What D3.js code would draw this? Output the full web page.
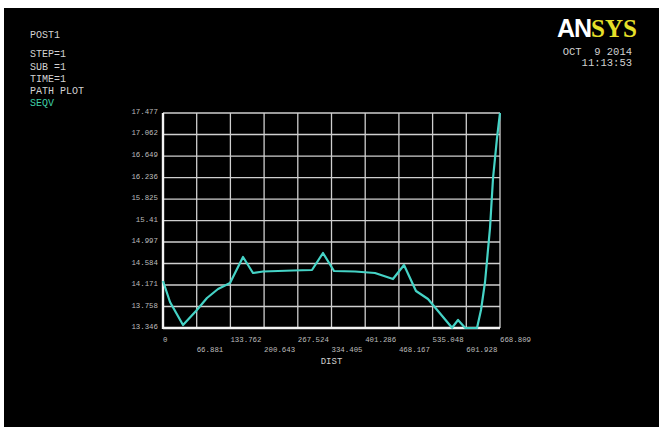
<!DOCTYPE html>
<html>
<head>
<meta charset="utf-8">
<script src="https://cdn.jsdelivr.net/npm/d3@7/dist/d3.min.js"></script>
<style>
  html, body { margin: 0; padding: 0; background: #ffffff; }
  svg { display: block; }
</style>
</head>
<body>
<svg id="chart" width="659" height="427"></svg>
<script>
// Path plot of von Mises stress (SEQV) along the path distance
const dist = [0, 13.9, 39.7, 65.5, 87.3, 109.2, 133.0, 158.8, 178.6, 198.5, 258.0, 295.7,
  317.5, 339.4, 381.0, 420.7, 456.4, 478.3, 502.1, 525.9, 573.6, 585.5, 599.4, 623.2,
  631.1, 639.1, 649.0, 655.0, 662.9, 668.809];
const seqv = [14.249, 13.846, 13.404, 13.673, 13.922, 14.095, 14.211, 14.710, 14.403, 14.432,
  14.451, 14.460, 14.787, 14.441, 14.432, 14.403, 14.287, 14.556, 14.057, 13.903, 13.350,
  13.500, 13.350, 13.346, 13.692, 14.230, 15.268, 16.228, 16.997, 17.477];

const xTickValues = [0, 66.881, 133.762, 200.643, 267.524, 334.405, 401.286, 468.167, 535.048, 601.928, 668.809];
const xTickLabels = ["0", "66.881", "133.762", "200.643", "267.524", "334.405", "401.286", "468.167", "535.048", "601.928", "668.809"];
const yTickValues = [13.346, 13.759, 14.172, 14.585, 14.998, 15.41, 15.824, 16.237, 16.650, 17.064, 17.477];
const yTickLabels = ["13.346", "13.758", "14.171", "14.584", "14.997", "15.41", "15.825", "16.236", "16.649", "17.062", "17.477"];

const headerLines = ["POST1", "", "STEP=1", "SUB =1", "TIME=1", "PATH PLOT"];
const seriesName = "SEQV";
const dateLine = "OCT  9 2014";
const timeLine = "11:13:53";
const xTitle = "DIST";

const svg = d3.select("#chart");
const mono = "'Liberation Mono', 'DejaVu Sans Mono', monospace";

// black graphics window
svg.append("rect").attr("x", 4).attr("y", 8).attr("width", 655).attr("height", 419).attr("fill", "#000");

const x = d3.scaleLinear().domain([0, 668.809]).range([163, 500]);
const y = d3.scaleLinear().domain([13.346, 17.477]).range([328, 113]);

// grid
const grid = svg.append("g").attr("stroke", "#cfcfcf").attr("stroke-width", 1.3);
grid.selectAll("line.v").data(xTickValues.slice(1)).enter().append("line")
  .attr("x1", d => x(d)).attr("x2", d => x(d)).attr("y1", y.range()[1]).attr("y2", y.range()[0]);
grid.selectAll("line.h").data(yTickValues.slice(1)).enter().append("line")
  .attr("y1", d => y(d)).attr("y2", d => y(d)).attr("x1", x.range()[0]).attr("x2", x.range()[1]);

// axes frame lines (left and bottom)
svg.append("line").attr("x1", x.range()[0]).attr("x2", x.range()[0]).attr("y1", y.range()[1]).attr("y2", y.range()[0] + 1)
  .attr("stroke", "#f4f4f4").attr("stroke-width", 2.4);
svg.append("line").attr("x1", x.range()[0]).attr("x2", x.range()[1]).attr("y1", y.range()[0]).attr("y2", y.range()[0])
  .attr("stroke", "#f4f4f4").attr("stroke-width", 2.4);

// y tick labels
svg.append("g").selectAll("text").data(yTickValues).enter().append("text")
  .attr("x", 158).attr("y", d => y(d) + 1)
  .attr("text-anchor", "end").attr("font-family", mono).attr("font-size", 7.4)
  .attr("fill", "#bdbdbd").text((d, i) => yTickLabels[i]);

// x tick labels, staggered in two rows
svg.append("g").selectAll("text").data(xTickValues).enter().append("text")
  .attr("x", d => x(d)).attr("y", (d, i) => i % 2 === 0 ? 342 : 352)
  .attr("font-family", mono).attr("font-size", 7.4)
  .attr("fill", "#bdbdbd").text((d, i) => xTickLabels[i]);

svg.append("text").attr("x", (x.range()[0] + x.range()[1]) / 2).attr("y", 364)
  .attr("text-anchor", "middle").attr("font-family", mono).attr("font-size", 9)
  .attr("fill", "#cfcfcf").text(xTitle);

// stress curve
const line = d3.line().x((d, i) => x(dist[i])).y(d => y(d));
svg.append("path").datum(seqv).attr("d", line)
  .attr("fill", "none").attr("stroke", "#45d3c6").attr("stroke-width", 2.2)
  .attr("stroke-linejoin", "round");

// header block
const hdr = svg.append("g").attr("font-family", mono).attr("font-size", 10).attr("fill", "#d2d2d2");
const hdrY = [38, 0, 57, 70, 82, 94];
headerLines.forEach((t, i) => { if (t) hdr.append("text").attr("x", 30).attr("y", hdrY[i]).text(t); });
hdr.append("text").attr("x", 30).attr("y", 106).attr("fill", "#3fcfa8").text(seriesName);

// logo and timestamp
const logo = svg.append("text").attr("x", 557).attr("y", 37).attr("font-size", 25);
logo.append("tspan").attr("font-family", "'Liberation Sans', Arial, sans-serif").attr("font-weight", "bold")
  .attr("fill", "#ffffff").attr("letter-spacing", -1).text("AN");
logo.append("tspan").attr("font-family", "'Liberation Serif', serif").attr("font-weight", "bold")
  .attr("fill", "#e6e02a").text("SYS");

svg.append("text").attr("x", 632).attr("y", 55).attr("text-anchor", "end")
  .attr("font-family", mono).attr("font-size", 10.5).attr("fill", "#d2d2d2").attr("xml:space", "preserve").text(dateLine);
svg.append("text").attr("x", 632).attr("y", 66).attr("text-anchor", "end")
  .attr("font-family", mono).attr("font-size", 10.5).attr("fill", "#d2d2d2").text(timeLine);
</script>
</body>
</html>
